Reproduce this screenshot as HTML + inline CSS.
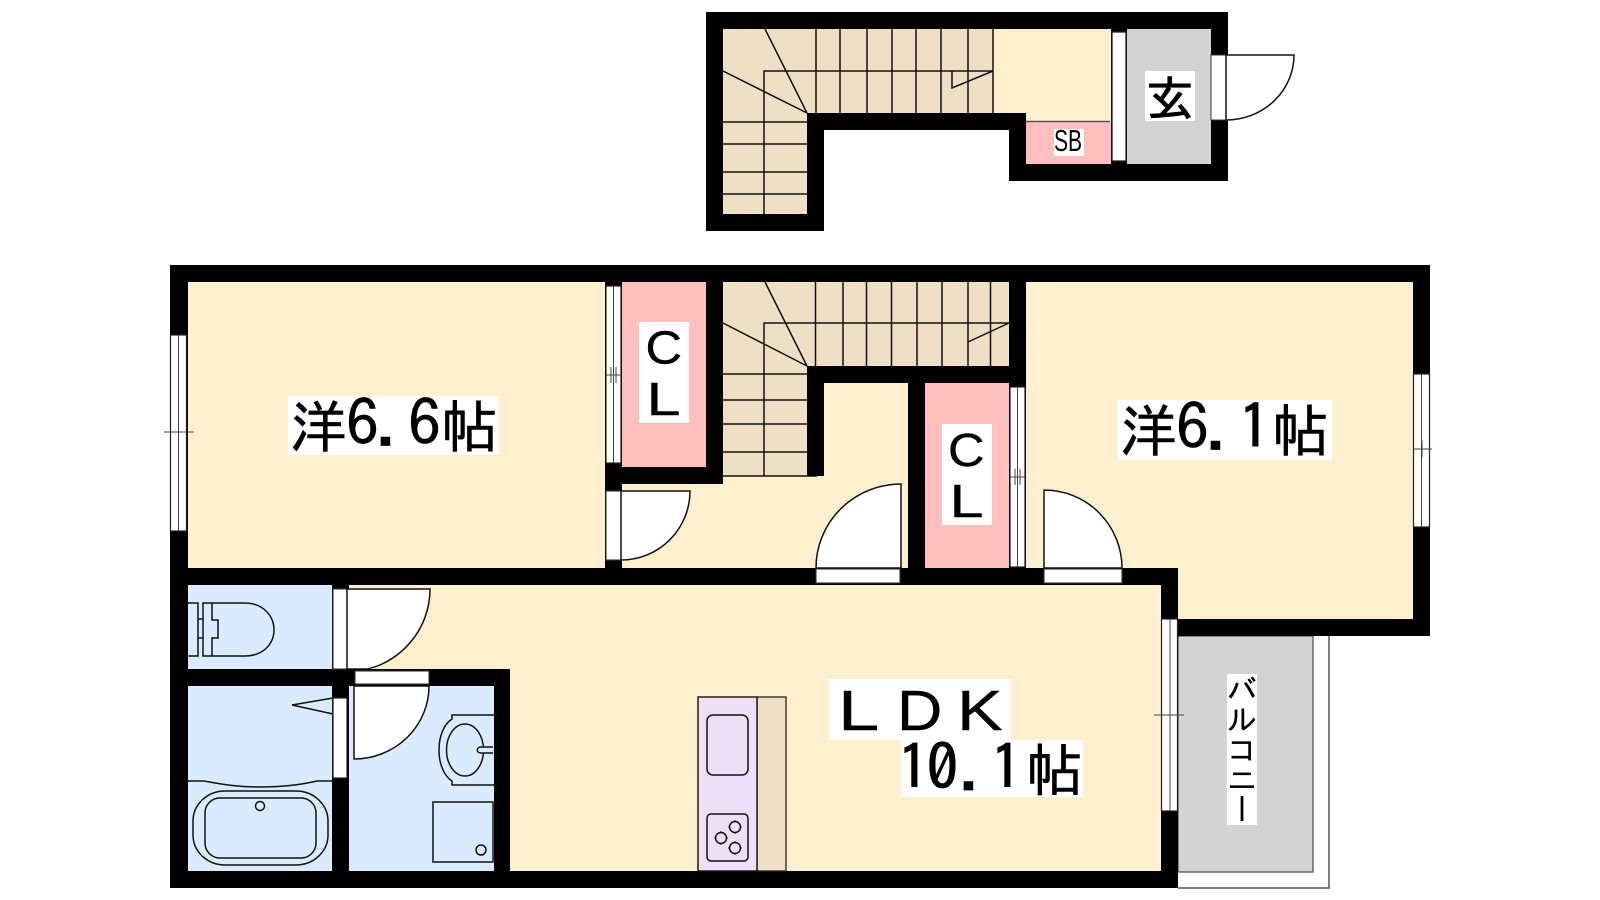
<!DOCTYPE html>
<html><head><meta charset="utf-8"><style>
html,body{margin:0;padding:0;background:#fff;width:1600px;height:900px;overflow:hidden}
svg{display:block}
.j{font-family:"IPAGothic","Noto Sans CJK JP",monospace;fill:#000;stroke:#000;stroke-width:.5}
.d{font-family:"IPAGothic","Noto Sans CJK JP",monospace;fill:#000;stroke:#000;stroke-width:.7;font-size:62px}
.s{font-family:"Liberation Sans",sans-serif;fill:#000;stroke:#000;stroke-width:.4}
</style></head><body>
<svg width="1600" height="900" viewBox="0 0 1600 900" xmlns="http://www.w3.org/2000/svg">
<rect width="1600" height="900" fill="#fff"/>

<!-- upper floor fills -->
<rect x="723" y="29" width="270" height="85" fill="#EFDFC5"/>
<rect x="723" y="29" width="84" height="186" fill="#EFDFC5"/>
<rect x="993" y="29" width="118" height="93" fill="#FEF0CF"/>
<rect x="1026" y="122" width="85" height="43" fill="#FFBFBF"/>
<rect x="1127" y="29" width="85" height="136" fill="#D3D3D3"/>

<!-- upper stairs lines -->
<g stroke="#111" stroke-width="1.5" fill="none">
<path d="M816 29V113M840 29V113M867 29V113M892 29V113M916 29V113M941 29V113M968 29V113M993 29V113"/>
<path d="M764 214V71H993"/>
<path d="M723 122H807M723 144H807M723 172H807M723 194H807"/>
<path d="M765 29L807 113M723 71L807 113"/>
<path d="M952 71V88L993 71"/>
<path d="M1026 121.500H1110" stroke="#555"/>
</g>

<!-- upper walls -->
<g fill="#000">
<rect x="706" y="12" width="522" height="17"/>
<rect x="706" y="12" width="17" height="219"/>
<rect x="706" y="214" width="118" height="17"/>
<rect x="807" y="113" width="17" height="118"/>
<rect x="807" y="113" width="219" height="17"/>
<rect x="1009" y="113" width="17" height="68"/>
<rect x="1009" y="164" width="219" height="17"/>
<rect x="1211" y="12" width="17" height="169"/>
<rect x="1111" y="29" width="16" height="136"/>
</g>
<rect x="1112" y="32" width="14" height="129" fill="#fff" stroke="#222" stroke-width="1.3"/>
<!-- entry door -->
<rect x="1211" y="55" width="15" height="65" fill="#fff" stroke="#333" stroke-width="1"/>
<path d="M1226 55H1294A68 65 0 0 1 1226 120Z" fill="#fff" stroke="#111" stroke-width="1.5"/>

<!-- main fills -->
<rect x="188" y="282" width="420" height="290" fill="#FEF0CF"/>
<rect x="622" y="476" width="290" height="98" fill="#FEF0CF"/>
<rect x="824" y="383" width="90" height="110" fill="#FEF0CF"/>
<rect x="1026" y="282" width="390" height="340" fill="#FEF0CF"/>
<rect x="1026" y="560" width="140" height="30" fill="#FEF0CF"/>
<rect x="349" y="585" width="815" height="86" fill="#FEF0CF"/>
<rect x="510" y="670" width="654" height="203" fill="#FEF0CF"/>
<rect x="622" y="282" width="84" height="185" fill="#FFBFBF"/>
<rect x="925" y="383" width="84" height="185" fill="#FFBFBF"/>
<rect x="723" y="282" width="286" height="84" fill="#EFDFC5"/>
<rect x="723" y="282" width="84" height="194" fill="#EFDFC5"/>
<rect x="188" y="585" width="146" height="84" fill="#DAEBFF"/>
<rect x="188" y="686" width="146" height="186" fill="#DAEBFF"/>
<rect x="349" y="686" width="146" height="186" fill="#DAEBFF"/>
<rect x="1178" y="636" width="135" height="236" fill="#D3D3D3" stroke="#555" stroke-width="1.3"/>
<path d="M1329 636V888H1178" fill="none" stroke="#555" stroke-width="1.5"/>

<!-- main stairs lines -->
<g stroke="#111" stroke-width="1.5" fill="none">
<path d="M815.500 282V366M843 282V366M866.500 282V366M891.500 282V366M917 282V366M942 282V366M968 282V366M990.500 282V366"/>
<path d="M764 476V323H1009"/>
<path d="M723 374H807M723 400H807M723 424H807M723 452H807M723 476H817"/>
<path d="M765 282L807 366M723 323L807 366"/>
<path d="M968 342L1009 323"/>
</g>

<!-- main walls -->
<g fill="#000">
<rect x="170" y="265" width="1260" height="17"/>
<rect x="170" y="265" width="18" height="623"/>
<rect x="1413" y="265" width="17" height="371"/>
<rect x="1178" y="619" width="252" height="17"/>
<rect x="1161" y="568" width="17" height="320"/>
<rect x="170" y="871" width="1008" height="17"/>
<rect x="170" y="568" width="1008" height="17"/>
<rect x="170" y="669" width="340" height="17"/>
<rect x="494" y="669" width="16" height="219"/>
<rect x="332" y="585" width="17" height="286"/>
<rect x="605" y="265" width="17" height="320"/>
<rect x="605" y="467" width="118" height="17"/>
<rect x="706" y="265" width="17" height="219"/>
<rect x="807" y="366" width="219" height="17"/>
<rect x="807" y="366" width="17" height="110"/>
<rect x="908" y="366" width="17" height="219"/>
<rect x="1009" y="265" width="17" height="122"/>
<rect x="1009" y="383" width="17" height="202"/>
</g>

<!-- windows -->
<g fill="#fff" stroke="#222" stroke-width="1.2">
<rect x="170.500" y="335" width="16" height="196"/>
<rect x="1413.500" y="374" width="16" height="153"/>
<rect x="606" y="286" width="15" height="177"/>
<rect x="1010" y="387" width="15" height="180"/>
<rect x="1161.500" y="619" width="16" height="192"/>
<rect x="333" y="698" width="14" height="80"/>
</g>
<g stroke="#444" stroke-width="1" fill="none">
<path d="M178.500 335V531M164 432H194M1421.500 374V527M1413 449H1432M1422 441V457"/>
<path d="M613.500 286V463M606 375H621M611 367V383M616 367V383"/>
<path d="M1017.500 387V567M1010 477H1025M1015 469V485M1020 469V485"/>
<path d="M1170 619V811M1154 715H1184"/>
</g>

<!-- doors -->
<g fill="#fff" stroke="#111" stroke-width="1.5">
<rect x="606" y="491" width="15" height="69" stroke="#333" stroke-width="1.1"/>
<path d="M621 491H690A69 69 0 0 1 621 560Z"/>
<rect x="816" y="569" width="84" height="14" stroke="#333" stroke-width="1.1"/>
<path d="M901 484V568H816A85 84 0 0 1 901 484Z"/>
<rect x="1044" y="569" width="78" height="14" stroke="#333" stroke-width="1.1"/>
<path d="M1044 490V568H1122A78 78 0 0 0 1044 490Z"/>
<rect x="333" y="589" width="14" height="80" stroke="#333" stroke-width="1.1"/>
<path d="M347 589H430C430 630 400 662 367 669H347Z"/>
<rect x="355" y="671" width="74" height="13" stroke="#333" stroke-width="1.1"/>
<path d="M354 686H429A75 73 0 0 1 354 759Z"/>
</g>

<!-- toilet -->
<g fill="none" stroke="#111" stroke-width="1.5">
<path d="M188 603H198V656H188"/>
<path d="M198 619H203M198 638H203"/>
<path d="M203 603H245C262 603 274 615 274 630C274 645 262 656 245 656H203Z"/>
<path d="M212 603V620H218V638H212V656"/>
<!-- mirror / bath -->
<path d="M333 698L292 705L333 714"/>
<path d="M188 781H204C225 785 240 787 260 787C280 787 300 785 317 781H332"/>
<rect x="193" y="791" width="135" height="74" rx="32" ry="30"/>
<rect x="205" y="798" width="111" height="60" rx="15" ry="15"/>
<circle cx="260" cy="806" r="4.500"/>
<!-- sink -->
<path d="M494 715H452V719C444 724 439 736 439 750C439 764 444 776 452 781V785H494"/>
<ellipse cx="465" cy="750" rx="18.500" ry="26"/>
<path d="M493 747H481C476 747 476 753 481 753H493" fill="#DAEBFF"/>
<!-- washer pan -->
<rect x="433" y="802" width="60" height="60"/>
<circle cx="481" cy="850" r="5"/>
</g>

<!-- kitchen -->
<rect x="757" y="697" width="29" height="174" fill="#EFDFC5" stroke="#222" stroke-width="1.3"/>
<rect x="698" y="697" width="59" height="174" fill="#EEDFF7" stroke="#111" stroke-width="1.4"/>
<g fill="none" stroke="#111" stroke-width="1.5">
<rect x="707" y="715" width="41" height="60" rx="6"/>
<rect x="707" y="814" width="41" height="47" rx="4"/>
<circle cx="735" cy="827" r="5.500"/>
<circle cx="721" cy="838" r="5.500"/>
<circle cx="735" cy="848" r="5.500"/>
<path d="M735 820V822M735 832V834M728 827H730M740 827H742M721 831V833M721 843V845M714 838H716M726 838H728M735 841V843M735 853V855M728 848H730M740 848H742" stroke-width=".8"/>
</g>

<!-- label backgrounds -->
<g fill="#fff">
<rect x="288" y="396" width="211" height="59"/>
<rect x="1118" y="400" width="214" height="60"/>
<rect x="829" y="679" width="182" height="61"/>
<rect x="901" y="740" width="182" height="57"/>
<rect x="639" y="322" width="50" height="101"/>
<rect x="942" y="424" width="50" height="101"/>
<rect x="1145" y="71" width="50" height="50"/>
<rect x="1054" y="129" width="30" height="27"/>
<rect x="1227" y="674" width="30" height="151"/>
</g>

<!-- labels -->
<text class="j" x="290" y="447.500" font-size="57">洋</text>
<text class="d" transform="translate(346,445.500) scale(1.06,1)">6</text>
<text class="d" transform="translate(375,445.500) scale(1.06,1)">.</text>
<text class="d" transform="translate(408,445.500) scale(1.06,1)">6</text>
<text class="j" x="441" y="447.500" font-size="57">帖</text>

<text class="j" x="1120" y="451.500" font-size="57">洋</text>
<text class="d" transform="translate(1176,449.500) scale(1.06,1)">6</text>
<text class="d" transform="translate(1205,449.500) scale(1.06,1)">.</text>
<text class="d" transform="translate(1238,449.500) scale(1.06,1)">1</text>
<text class="j" x="1272" y="451.500" font-size="57">帖</text>

<text class="s" transform="translate(838,730) scale(1.3,1)" font-size="57">L</text>
<text class="s" transform="translate(897,730) scale(1.1,1)" font-size="57">D</text>
<text class="s" transform="translate(957,730) scale(1.2,1)" font-size="57">K</text>

<text class="d" transform="translate(897,790) scale(1.06,1)">1</text>
<text class="d" transform="translate(926,790) scale(1.06,1)">0</text>
<text class="d" transform="translate(958,790) scale(1.06,1)">.</text>
<text class="d" transform="translate(990,790) scale(1.06,1)">1</text>
<text class="j" x="1026" y="791" font-size="57">帖</text>

<text class="s" transform="translate(645.500,363.500) scale(1.1,1)" font-size="46">C</text>
<text class="s" transform="translate(646.500,415) scale(1.33,1)" font-size="46">L</text>
<text class="s" transform="translate(948,466) scale(1.1,1)" font-size="46">C</text>
<text class="s" transform="translate(949.500,517) scale(1.33,1)" font-size="46">L</text>

<text class="j" x="1146" y="116" font-size="48" style="stroke-width:.9">玄</text>
<text class="s" transform="translate(1054,151) scale(.68,1)" font-size="31" style="stroke-width:0">SB</text>
<text class="j" x="1242" y="674" font-size="30" style="writing-mode:vertical-rl;stroke-width:.3">バルコニー</text>
</svg>
</body></html>
